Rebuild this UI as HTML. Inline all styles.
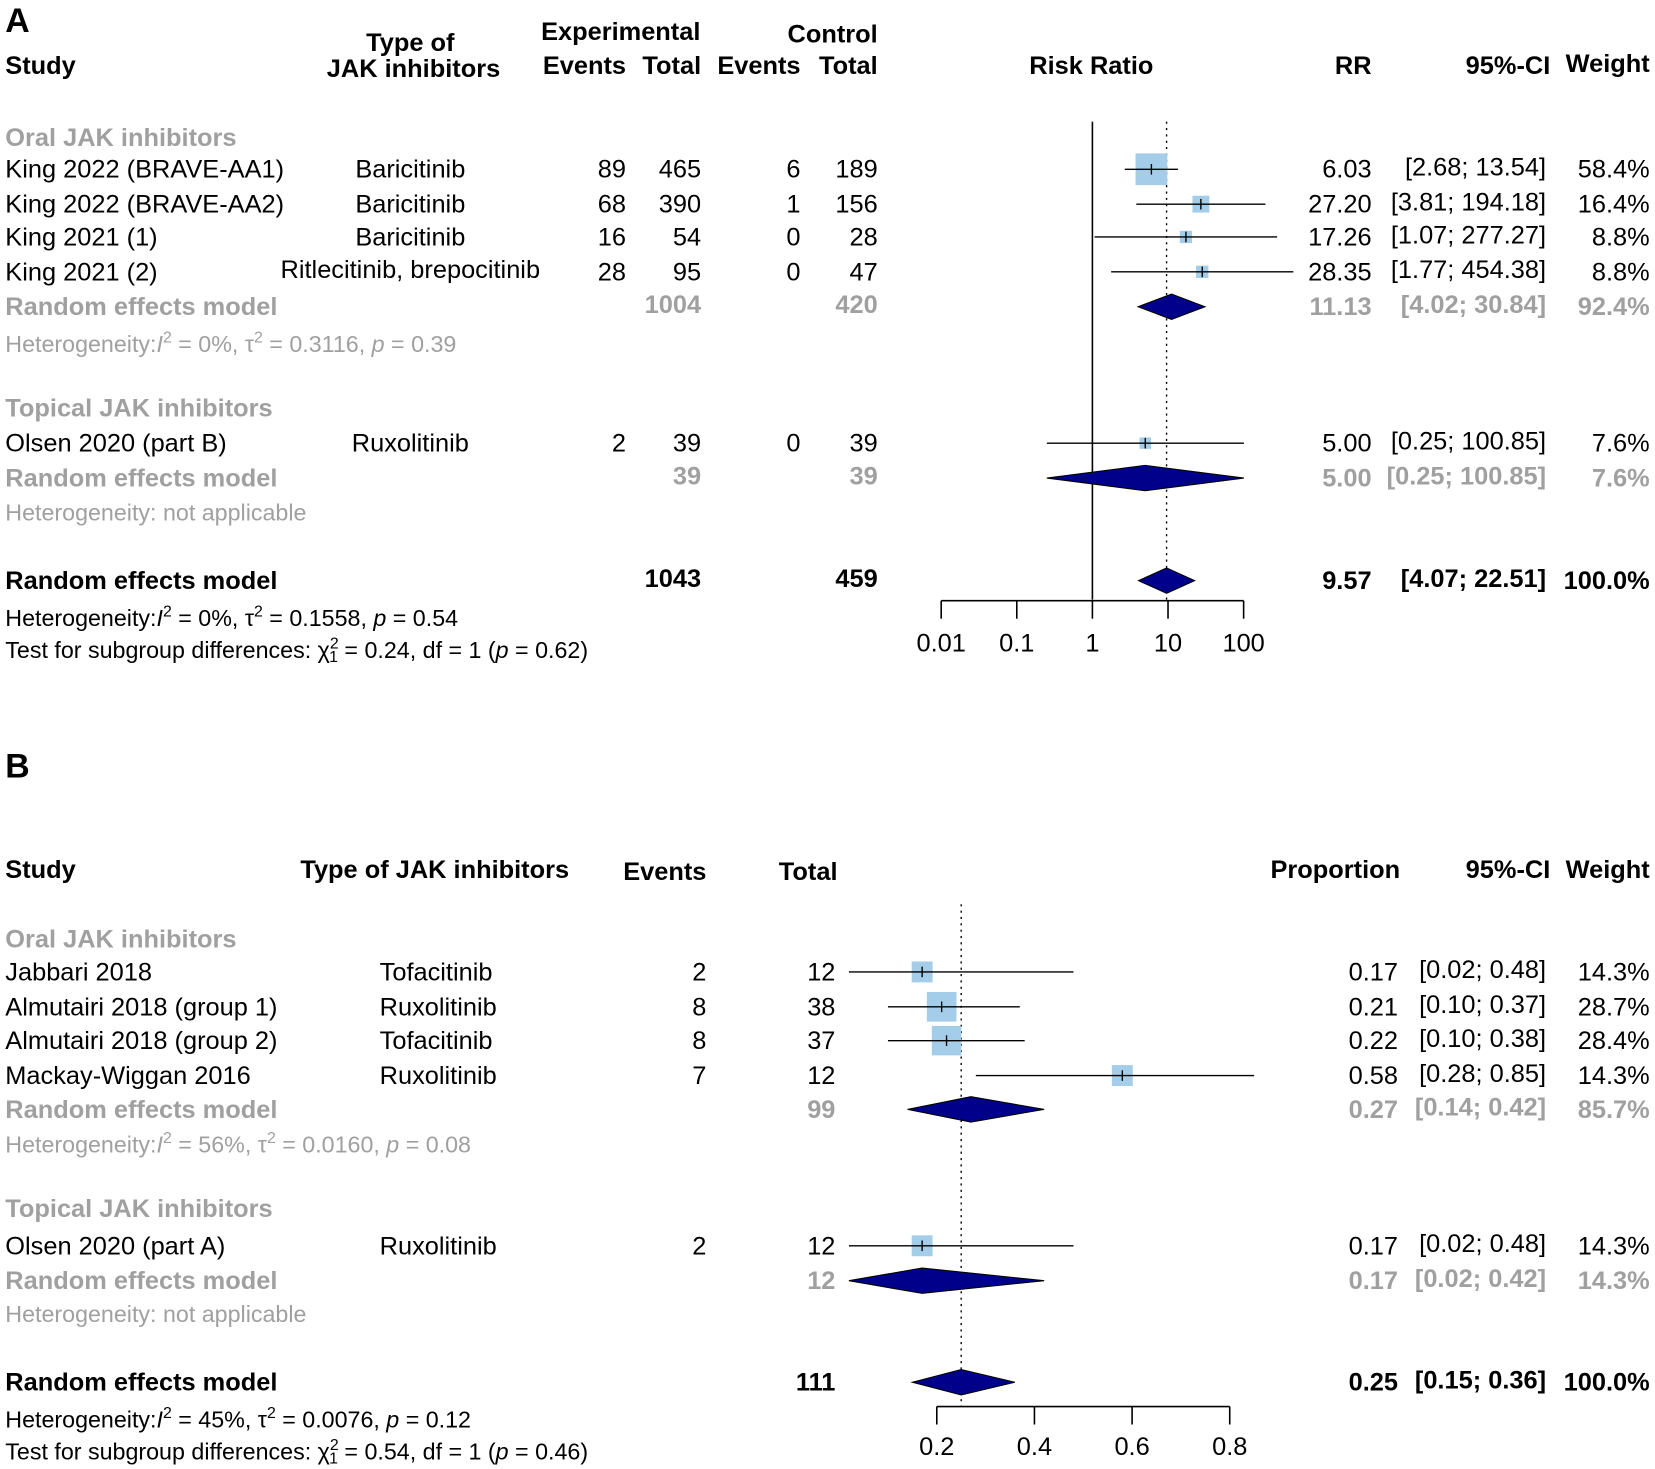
<!DOCTYPE html>
<html><head><meta charset="utf-8"><style>
html,body{margin:0;padding:0;background:#fff;}
svg{display:block;font-family:"Liberation Sans",Arial,sans-serif;}
.h{font-weight:bold;font-size:24px;fill:#000}
.t{font-size:24px;fill:#000}
.g{font-size:24px;fill:#a0a0a0;font-weight:bold}
.gs{font-size:22px;fill:#a0a0a0}
.ks{font-size:22px;fill:#000}
.b{font-size:24px;fill:#000;font-weight:bold}
</style></head><body>
<svg id="fig" width="1655" height="1469" viewBox="0 0 1565 1389">
<g id="A">
<text x="5" y="30" font-size="32" font-weight="bold">A</text>
<text class="h" x="5" y="70">Study</text>
<text class="h" x="388" y="48" text-anchor="middle">Type of</text>
<text class="h" x="391" y="73" text-anchor="middle">JAK inhibitors</text>
<text class="h" x="587" y="38" text-anchor="middle">Experimental</text>
<text class="h" x="592" y="70" text-anchor="end">Events</text>
<text class="h" x="663" y="70" text-anchor="end">Total</text>
<text class="h" x="757" y="70" text-anchor="end">Events</text>
<text class="h" x="830" y="70" text-anchor="end">Total</text>
<text class="h" x="830" y="40" text-anchor="end">Control</text>
<text class="h" x="1032" y="70" text-anchor="middle">Risk Ratio</text>
<text class="h" x="1297" y="70" text-anchor="end">RR</text>
<text class="h" x="1466" y="70" text-anchor="end">95%-CI</text>
<text class="h" x="1560" y="68" text-anchor="end">Weight</text>
</g>
<g id="B">
<text x="5" y="735" font-size="32" font-weight="bold">B</text>
<text class="h" x="5" y="830">Study</text>
<text class="h" x="284" y="830">Type of JAK inhibitors</text>
<text class="h" x="668" y="832" text-anchor="end">Events</text>
<text class="h" x="792" y="832" text-anchor="end">Total</text>
<text class="h" x="1324" y="830" text-anchor="end">Proportion</text>
<text class="h" x="1466" y="830" text-anchor="end">95%-CI</text>
<text class="h" x="1560" y="830" text-anchor="end">Weight</text>
</g>
</svg>
<script>
// Panel A data
const aStudies = ["King 2022 (BRAVE-AA1)","King 2022 (BRAVE-AA2)","King 2021 (1)","King 2021 (2)","Olsen 2020 (part B)"];
const aTypes = ["Baricitinib","Baricitinib","Baricitinib","Ritlecitinib,  brepocitinib","Ruxolitinib"];
const aExpEvents = [89,68,16,28,2];
const aExpTotal = [465,390,54,95,39];
const aCtrlEvents = [6,1,0,0,0];
const aCtrlTotal = [189,156,28,47,39];
const aRR = [6.03,27.20,17.26,28.35,5.00];
const aLo = [2.68,3.81,1.07,1.77,0.25];
const aHi = [13.54,194.18,277.27,454.38,100.85];
const aWeight = [58.4,16.4,8.8,8.8,7.6];
const aPooled = [11.13,5.00,9.57];
const aPooledLo = [4.02,0.25,4.07];
const aPooledHi = [30.84,100.85,22.51];
const aTicks = [0.01,0.1,1,10,100];
// Panel B data
const bStudies = ["Jabbari 2018","Almutairi 2018 (group 1)","Almutairi 2018 (group 2)","Mackay-Wiggan 2016","Olsen 2020 (part A)"];
const bTypes = ["Tofacitinib","Ruxolitinib","Tofacitinib","Ruxolitinib","Ruxolitinib"];
const bEvents = [2,8,8,7,2];
const bTotal = [12,38,37,12,12];
const bProp = [0.17,0.21,0.22,0.58,0.17];
const bLo = [0.02,0.10,0.10,0.28,0.02];
const bHi = [0.48,0.37,0.38,0.85,0.48];
const bWeight = [14.3,28.7,28.4,14.3,14.3];
const bPooled = [0.27,0.17,0.25];
const bPooledLo = [0.14,0.02,0.15];
const bPooledHi = [0.42,0.42,0.36];
const bTicks = [0.2,0.4,0.6,0.8];

const NS="http://www.w3.org/2000/svg";
function mk(parent,tag,attrs,txt){const e=document.createElementNS(NS,tag);for(const k in attrs)e.setAttribute(k,attrs[k]);if(txt!==undefined)e.textContent=txt;parent.appendChild(e);return e;}
const xA=v=>1033+71.5*Math.log10(v);
const xB=v=>793.5+461.7*v;
const A=document.getElementById('A'),B=document.getElementById('B');

function txt(p,x,y,cls,s,anchor,name){const e=mk(p,'text',{x:x,y:y,class:cls,'text-anchor':anchor||'start','xml:space':'preserve'},s);

return e;}
function het(p,x,y,cls,i2,tau,pv,name){
 const e=mk(p,'text',{x:x,y:y,class:cls,'xml:space':'preserve'});
 
 
 mk(e,'tspan',{},'Heterogeneity:');mk(e,'tspan',{'font-style':'italic'},'I');
 mk(e,'tspan',{dy:-9,'font-size':15},'2');mk(e,'tspan',{dy:9},' = '+i2+',  τ');
 mk(e,'tspan',{dy:-9,'font-size':15},'2');mk(e,'tspan',{dy:9},' = '+tau+',  ');
 mk(e,'tspan',{'font-style':'italic'},'p');mk(e,'tspan',{},' = '+pv);}
function test(p,x,y,chi,pv,name){
 const e=mk(p,'text',{x:x,y:y,class:'ks','xml:space':'preserve'});
 
 
 mk(e,'tspan',{},'Test for subgroup differences:  χ');mk(e,'tspan',{dy:-9,'font-size':15},'2');
 mk(e,'tspan',{dy:13,dx:-9,'font-size':15},'1');mk(e,'tspan',{dy:-4},'  = '+chi+', df = 1  (');
 mk(e,'tspan',{'font-style':'italic'},'p');mk(e,'tspan',{},' = '+pv+')');}
function diamond(p,xf,est,lo,hi,y,name){const d=mk(p,'polygon',{points:`${xf(lo)},${y} ${xf(est)},${y-12} ${xf(hi)},${y} ${xf(est)},${y+12}`,fill:'#00008b',stroke:'#000','stroke-width':1});

}
function study(p,xf,est,lo,hi,w,y,k,maxw,maxs,name){
 const s=maxs*Math.sqrt(w/maxw);
 const r=mk(p,'rect',{x:xf(est)-s/2,y:y-s/2,width:s,height:s,fill:'#a3cde9'});
 
 
 const l=mk(p,'line',{x1:xf(lo),x2:xf(hi),y1:y,y2:y,stroke:'#000','stroke-width':1.3});
 
 
 mk(p,'line',{x1:xf(est),x2:xf(est),y1:y-5,y2:y+5,stroke:'#000','stroke-width':1.3});}
const f2=v=>v.toFixed(2);
const ci=(lo,hi,w)=>{let h=f2(hi);while(h.length<w)h=' '+h;return '['+f2(lo)+'; '+h+']';};

// ---- Panel A
const aY=[160,193,224,257,419];
mk(A,'line',{x1:1033,x2:1033,y1:115,y2:567,stroke:'#000','stroke-width':1.5});
mk(A,'line',{x1:xA(aPooled[2]),x2:xA(aPooled[2]),y1:115,y2:567,stroke:'#000','stroke-width':1.3,'stroke-dasharray':'2,4'});
txt(A,5,138,'g','Oral JAK inhibitors','start','subgroup-oral-a');
txt(A,5,394,'g','Topical JAK inhibitors','start','subgroup-topical-a');
aStudies.forEach((s,i)=>{const y=aY[i]+8;
 txt(A,5,y,'t',s,'start','study-a-'+i);
 txt(A,388,y-(i===3?2:0),'t',aTypes[i],'middle','type-a-'+i);
 txt(A,592,y,'t',aExpEvents[i],'end','exp-events-a-'+i);
 txt(A,663,y,'t',aExpTotal[i],'end','exp-total-a-'+i);
 txt(A,757,y,'t',aCtrlEvents[i],'end','ctrl-events-a-'+i);
 txt(A,830,y,'t',aCtrlTotal[i],'end','ctrl-total-a-'+i);
 txt(A,1297,y,'t',f2(aRR[i]),'end','rr-a-'+i);
 txt(A,1462,y-2,'t',ci(aLo[i],aHi[i],6),'end','ci-a-'+i);
 txt(A,1560,y,'t',aWeight[i].toFixed(1)+'%','end','weight-a-'+i);
 study(A,xA,aRR[i],aLo[i],aHi[i],aWeight[i],aY[i],i,58.4,30,'study-a-'+i);
});
const aPY=[290,452,549],aPT=[[1004,420],[39,39],[1043,459]],aPW=['92.4%','7.6%','100.0%'];
aPY.forEach((y,i)=>{const c=i===2?'b':'g';
 txt(A,5,y+8,c,'Random effects model','start','random-model-a-'+i);
 txt(A,663,y+6,c,aPT[i][0],'end','pooled-exp-total-a-'+i);
 txt(A,830,y+6,c,aPT[i][1],'end','pooled-ctrl-total-a-'+i);
 txt(A,1297,y+8,c,f2(aPooled[i]),'end','pooled-rr-a-'+i);
 txt(A,1462,y+6,c,ci(aPooledLo[i],aPooledHi[i],6),'end','pooled-ci-a-'+i);
 txt(A,1560,y+8,c,aPW[i],'end','pooled-weight-a-'+i);
 diamond(A,xA,aPooled[i],aPooledLo[i],aPooledHi[i],y,'diamond-a-'+i);
});
het(A,5,333,'gs','0%','0.3116','0.39','heterogeneity-oral-a');
txt(A,5,492,'gs','Heterogeneity: not applicable','start','heterogeneity-topical-a');
het(A,5,592,'ks','0%','0.1558','0.54','heterogeneity-overall-a');
test(A,5,622,'0.24','0.62','subgroup-test-a');
mk(A,'line',{x1:xA(0.01),x2:xA(100),y1:568,y2:568,stroke:'#000','stroke-width':1.5});
aTicks.forEach((t,i)=>{mk(A,'line',{x1:xA(t),x2:xA(t),y1:568,y2:585,stroke:'#000','stroke-width':1.5});
 txt(A,xA(t),616,'t',String(t),'middle','x-tick-a-'+i);});

// ---- Panel B
const bY=[919,952,984,1017,1178];
mk(B,'line',{x1:xB(bPooled[2]),x2:xB(bPooled[2]),y1:855,y2:1330,stroke:'#000','stroke-width':1.3,'stroke-dasharray':'2,4'});
txt(B,5,896,'g','Oral JAK inhibitors','start','subgroup-oral-b');
txt(B,5,1151,'g','Topical JAK inhibitors','start','subgroup-topical-b');
bStudies.forEach((s,i)=>{const y=bY[i]+8;
 txt(B,5,y,'t',s,'start','study-b-'+i);
 txt(B,359,y,'t',bTypes[i],'start','type-b-'+i);
 txt(B,668,y,'t',bEvents[i],'end','events-b-'+i);
 txt(B,790,y,'t',bTotal[i],'end','total-b-'+i);
 txt(B,1322,y,'t',f2(bProp[i]),'end','prop-b-'+i);
 txt(B,1462,y-2,'t','['+f2(bLo[i])+'; '+f2(bHi[i])+']','end','ci-b-'+i);
 txt(B,1560,y,'t',bWeight[i].toFixed(1)+'%','end','weight-b-'+i);
 study(B,xB,bProp[i],bLo[i],bHi[i],bWeight[i],bY[i],i,28.7,28,'study-b-'+i);
});
const bPY=[1049,1211,1307],bPT=[99,12,111],bPW=['85.7%','14.3%','100.0%'];
bPY.forEach((y,i)=>{const c=i===2?'b':'g';
 txt(B,5,y+8,c,'Random effects model','start','random-model-b-'+i);
 txt(B,790,y+8,c,bPT[i],'end','pooled-total-b-'+i);
 txt(B,1322,y+8,c,f2(bPooled[i]),'end','pooled-prop-b-'+i);
 txt(B,1462,y+6,c,'['+f2(bPooledLo[i])+'; '+f2(bPooledHi[i])+']','end','pooled-ci-b-'+i);
 txt(B,1560,y+8,c,bPW[i],'end','pooled-weight-b-'+i);
 diamond(B,xB,bPooled[i],bPooledLo[i],bPooledHi[i],y,'diamond-b-'+i);
});
het(B,5,1090,'gs','56%','0.0160','0.08','heterogeneity-oral-b');
txt(B,5,1250,'gs','Heterogeneity: not applicable','start','heterogeneity-topical-b');
het(B,5,1350,'ks','45%','0.0076','0.12','heterogeneity-overall-b');
test(B,5,1380,'0.54','0.46','subgroup-test-b');
mk(B,'line',{x1:xB(bTicks[0]),x2:xB(bTicks[bTicks.length-1]),y1:1330,y2:1330,stroke:'#000','stroke-width':1.5});
bTicks.forEach((t,i)=>{mk(B,'line',{x1:xB(t),x2:xB(t),y1:1330,y2:1347,stroke:'#000','stroke-width':1.5});
 txt(B,xB(t),1376,'t',String(t),'middle','x-tick-b-'+i);});
</script>
</body></html>
